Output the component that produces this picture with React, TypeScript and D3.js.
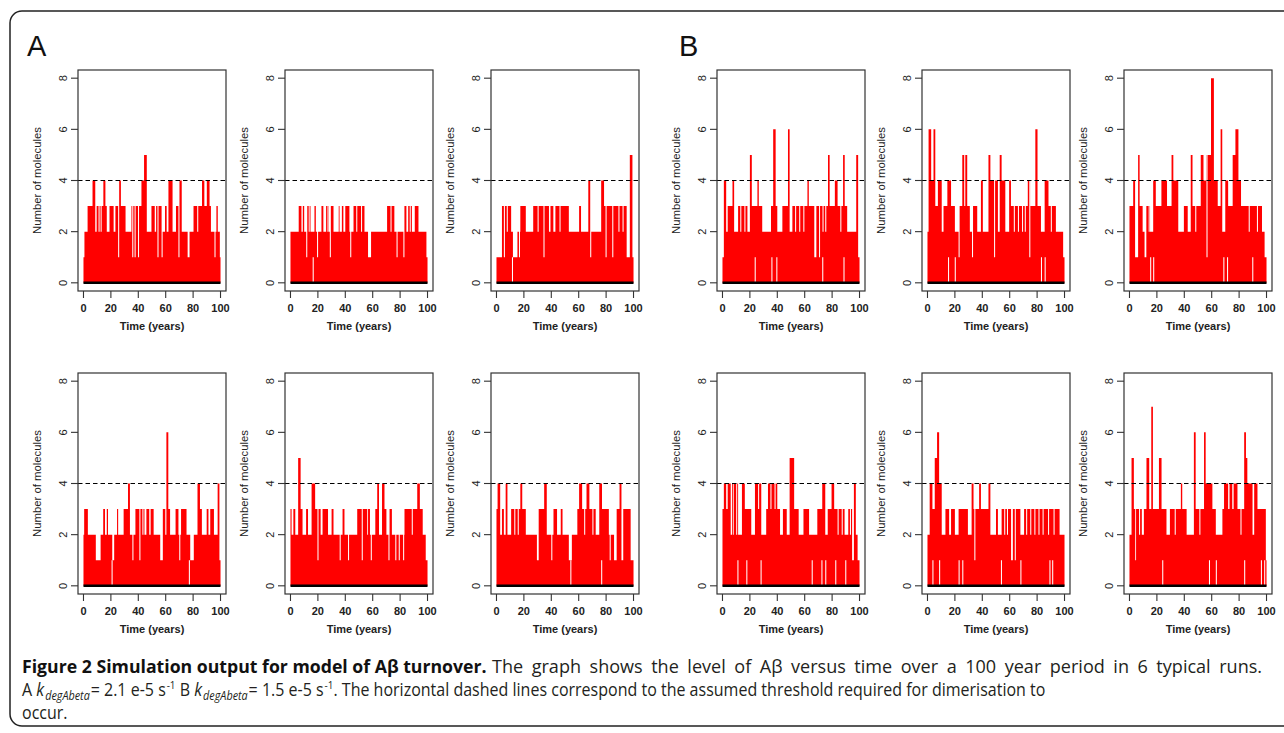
import React, { useLayoutEffect, useRef, useState } from 'react';
import * as d3 from 'd3';

type Step = [number, number];

// ---- axis / labels ----
const xTicks = [0, 20, 40, 60, 80, 100];
const yTicks = [0, 2, 4, 6, 8];
const threshold = 4;
const groupLabels = ['A', 'B'];
const xLabel = 'Time (years)';
const yLabel = 'Number of molecules';

// ---- data: upper envelope change points [year, level], thin dips [year, level], floor gaps (min level 1) ----
const stepsA1: Step[] = [[0,1],[0.7,2],[3,3],[6.6,4],[8.6,2],[9.6,3],[14.5,4],[16,3],[17,2],[19,3],[22,2],[23.3,3],[25.8,4],[27.3,3],[30.7,2],[35,3],[42.3,4],[44.2,5],[46.2,2],[49.6,3],[52,2],[53,3],[57.2,2],[59.5,3],[60.7,2],[62,4],[65,2],[67.5,3],[70,4],[71.7,2],[76,1],[77.4,2],[80.3,3],[84,3],[86.5,4],[88.2,3],[90,4],[92,3],[93,2],[97,3],[98,2],[99.5,1]];
const dipsA1: Step[] = [[11,2],[12.5,2],[25.3,1],[35.6,1],[37.3,1],[39.8,1],[54,1],[57,1],[69.3,1],[83,2],[95.6,1]];
const floorA1: number[] = [];

const stepsA2: Step[] = [[0,2],[6,3],[8,2],[9,3],[10,2],[12,3],[13.3,2],[14,3],[14.6,2],[17.5,3],[18.5,2],[22.6,3],[24,2],[26,3],[28,2],[29,3],[31.4,2],[35.2,3],[35.8,2],[37.5,3],[38.6,2],[40,3],[43,2],[46,3],[54,2],[56.6,1],[58.8,2],[70.5,3],[75.8,2],[83,3],[84.6,2],[85.9,3],[88.6,2],[90.7,3],[93.4,2],[99.2,1]];
const dipsA2: Step[] = [[11.5,1],[19.4,1],[27,2],[28.7,1],[43.6,1],[48,2],[51.5,2],[73,2],[77.4,1],[82.4,1],[87,2]];
const floorA2: number[] = [16.2];

const stepsA3: Step[] = [[0,1],[4,3],[10.7,2],[12,1],[15.3,2],[17.4,3],[21.4,2],[26.8,3],[38.3,2],[39.4,3],[41.5,2],[43,3],[52.8,2],[60.3,3],[61.7,2],[67,4],[68.9,2],[76.4,4],[78.5,3],[95,1],[97.3,5],[99.2,1]];
const dipsA3: Step[] = [[5.4,1],[7.5,2],[16.4,1],[30,2],[34.3,1],[46,2],[68.4,1],[79.6,1],[84.5,1],[89,2],[92,2]];
const floorA3: number[] = [11.3];

const stepsA4: Step[] = [[0,2],[0.5,3],[3.2,2],[9,1],[12.5,2],[14.4,3],[15.7,2],[17,3],[17.9,2],[21,1],[22.4,2],[24.5,3],[25.3,2],[29.3,3],[32.5,4],[33.9,2],[37.9,3],[44.5,2],[45.9,3],[48,2],[49,3],[51.2,2],[56,1],[57.9,3],[59.7,2],[60.5,6],[61.9,3],[63.2,2],[67.2,3],[69.3,2],[71.2,3],[75.2,2],[77.9,1],[80.5,2],[83.2,4],[85,3],[86.4,2],[89.9,3],[91.2,2],[92.5,3],[95.2,2],[97.9,4],[99.2,1]];
const dipsA4: Step[] = [[35.7,1],[40.8,1],[43,2],[69.9,1]];
const floorA4: number[] = [20.5, 76.9];

const stepsA5: Step[] = [[0,3],[0.8,2],[2.1,3],[3.5,2],[5.6,5],[7.4,3],[8.8,2],[11.4,3],[12.8,2],[15.4,4],[18,3],[22,2],[23.4,3],[27.4,2],[30,3],[31.4,2],[38,3],[39.4,2],[48.7,3],[56,2],[56.6,3],[58,2],[61.9,3],[63.3,4],[64.6,2],[66.8,4],[68.6,3],[70,2],[72.3,3],[74,2],[83.2,3],[92.5,4],[94.4,3],[96.5,2],[98.7,1]];
const dipsA5: Step[] = [[19.7,1],[35.9,1],[42,1],[52,1],[58.6,1],[71.5,1],[76.5,1],[79,1],[82.2,1],[88.5,2]];
const floorA5: number[] = [];

const stepsA6: Step[] = [[0,3],[0.8,4],[2.7,2],[4,3],[5.4,2],[6.7,4],[8,2],[10.7,3],[17.4,4],[18.8,3],[21.4,2],[29.5,1],[30.8,3],[34.8,4],[36.7,2],[41.6,3],[44.2,2],[46.9,3],[48.2,2],[52.8,1],[55,2],[59,3],[60.3,4],[62.5,3],[65.7,4],[67.8,3],[72.4,2],[75,4],[77,3],[82,2],[85.8,1],[87.7,3],[89.8,4],[91.2,1],[92.5,3],[97.9,1]];
const dipsA6: Step[] = [[13,2],[15.5,2],[40,1],[64,2],[70,2],[82.6,1]];
const floorA6: number[] = [53.9, 76.4];

const stepsB1: Step[] = [[0,1],[1,4],[2.7,2],[3.8,3],[7.3,4],[8.5,2],[11.4,3],[18.2,2],[20,5],[21.4,3],[25.5,4],[26.5,3],[29,2],[35.4,3],[37,6],[38.8,3],[40,2],[43.7,3],[47.8,6],[49,2],[51,3],[62,4],[63,3],[67,1],[68.5,3],[70.5,1],[71.2,3],[77,5],[78.2,3],[82,4],[84,3],[88,5],[89.2,3],[91,2],[97.6,5],[99,1]];
const dipsB1: Step[] = [[13,2],[16,2],[53,2],[56,2],[59,2],[73,2],[75,2],[86,2]];
const floorB1: number[] = [23.5, 35.7, 39.3, 72.8, 88.3];

const stepsB2: Step[] = [[0,2],[0.8,6],[2.7,4],[4.4,6],[5.7,3],[7.6,4],[10.4,2],[11.7,3],[14.5,4],[17.2,3],[20,2],[22.7,3],[25.4,5],[26.8,3],[27.6,5],[29,3],[30.9,2],[33,3],[36.3,2],[39,4],[40.4,2],[44.5,5],[45.9,4],[51.4,2],[52.7,5],[54.1,4],[56.8,2],[59.6,4],[60.9,3],[73.2,4],[75.1,3],[78.7,6],[80.3,3],[82.8,2],[85.5,4],[88.3,3],[93.7,2],[99,1]];
const dipsB2: Step[] = [[22.7,1],[32.5,1],[48.6,1],[63,2],[66,2],[69,2],[71,2],[74.3,1],[90,2]];
const floorB2: number[] = [15, 19.9, 82.8, 85.5];

const stepsB3: Step[] = [[0,3],[2.7,4],[4.1,1],[6.3,5],[7.4,3],[9.6,2],[11,1],[12.3,3],[15,2],[17.3,4],[19.2,3],[23.3,4],[27.4,3],[30.7,5],[32,4],[35.6,2],[39.7,3],[42.5,2],[44.7,5],[46,3],[52,5],[54,4],[56,5],[59.5,8],[61.6,4],[64.4,3],[66.5,6],[67.7,2],[69.9,4],[72,3],[75.3,5],[77.3,6],[79.5,4],[81.4,3],[96.7,2],[98.6,1]];
const dipsB3: Step[] = [[14,2],[38,2],[48,2],[56.2,1],[87,2],[93,2]];
const floorB3: number[] = [15.1, 17.3, 68.5, 71.2, 89.6];

const stepsB4: Step[] = [[0,3],[1,4],[2.7,3],[3.8,4],[6,2],[7,4],[7.6,2],[8.2,4],[11.4,2],[14.2,4],[16.3,3],[21,2],[23.7,4],[28.3,2],[31.9,3],[33.2,4],[40,3],[42,2],[44.1,3],[46.9,2],[49,5],[52.3,3],[55.6,2],[59.1,3],[63.2,2],[69.2,3],[72.8,4],[75,2],[76.8,3],[79.6,4],[81.5,3],[89.1,2],[91.8,3],[94.6,1],[95.9,4],[97.3,2],[98.6,1]];
const dipsB4: Step[] = [[10,2],[26,3],[35,3],[38,3],[84,2],[87,2],[93,2]];
const floorB4: number[] = [10.9, 17.4, 27.8, 65.1, 72.2, 75, 82.3, 89.6];

const stepsB5: Step[] = [[0,2],[1.6,4],[3.6,3],[5.3,5],[7,6],[8.5,4],[10.4,2],[13.1,3],[15.8,2],[17.2,3],[20,2],[22.7,3],[29.5,2],[32.2,4],[33.6,3],[37.7,4],[39,3],[44.5,4],[45.9,2],[50,3],[51.4,2],[54.1,3],[61,1],[62.3,3],[67.8,2],[70.5,3],[96.4,2]];
const dipsB5: Step[] = [[34.2,1],[56,2],[58,2],[63.7,1],[72,2],[75,2],[78,2],[81,2],[84,2],[88,2],[92,2]];
const floorB5: number[] = [3.6, 8.5, 22.7, 25.4, 53.6, 67.8, 89, 91];

const stepsB6: Step[] = [[0,2],[1.5,5],[3.2,3],[4.2,1],[4.8,3],[9,2],[10.5,3],[12.4,5],[14.4,3],[15.9,7],[17.1,3],[21.5,5],[23.4,3],[27,2],[29.5,3],[37.5,4],[38.5,3],[41.7,2],[47,6],[48.3,3],[54.4,6],[55.6,4],[60.5,3],[63,2],[67.8,3],[69,4],[72,3],[73,4],[75,3],[76,4],[78.8,3],[83.7,6],[85,5],[86,4],[89.8,2],[91,4],[93.4,3],[99.5,1]];
const dipsB6: Step[] = [[7,2],[33,2],[44,2],[51,2],[81,2]];
const floorB6: number[] = [23.9, 58, 63, 83.7, 95.9, 98.3];

const panelData = [
  { steps: stepsA1, dips: dipsA1, floors: floorA1 },
  { steps: stepsA2, dips: dipsA2, floors: floorA2 },
  { steps: stepsA3, dips: dipsA3, floors: floorA3 },
  { steps: stepsA4, dips: dipsA4, floors: floorA4 },
  { steps: stepsA5, dips: dipsA5, floors: floorA5 },
  { steps: stepsA6, dips: dipsA6, floors: floorA6 },
  { steps: stepsB1, dips: dipsB1, floors: floorB1 },
  { steps: stepsB2, dips: dipsB2, floors: floorB2 },
  { steps: stepsB3, dips: dipsB3, floors: floorB3 },
  { steps: stepsB4, dips: dipsB4, floors: floorB4 },
  { steps: stepsB5, dips: dipsB5, floors: floorB5 },
  { steps: stepsB6, dips: dipsB6, floors: floorB6 },
];

// ---- layout ----
const colLeftsA = [78, 285, 491];
const colLeftsB = [717, 922, 1124];
const rowTops = [70, 373];
const boxW = 148;
const boxH = 221;
const DIP_W = 0.75;

function buildEnvelope(steps: Step[], dips: Step[]): Step[] {
  const levelAt = (t: number) => {
    let l = steps[0][1];
    for (const [s, v] of steps) {
      if (s <= t + 1e-9) l = v;
      else break;
    }
    for (const [dt, dv] of dips) {
      if (t >= dt - 1e-9 && t < dt + DIP_W - 1e-9) l = Math.min(l, dv);
    }
    return l;
  };
  const times = new Set<number>();
  steps.forEach(([t]) => times.add(t));
  dips.forEach(([t]) => {
    times.add(t);
    times.add(+(t + DIP_W).toFixed(3));
  });
  const sorted = Array.from(times).filter((t) => t >= 0 && t < 100).sort((a, b) => a - b);
  const pts: Step[] = sorted.map((t) => [t, levelAt(t)]);
  pts.push([100, pts[pts.length - 1][1]]);
  return pts;
}

const axisFont = "'Liberation Sans', Arial, Helvetica, sans-serif";

function Panel({ left, top, steps, dips, floors }: { left: number; top: number; steps: Step[]; dips: Step[]; floors: number[] }) {
  const x = d3.scaleLinear().domain([-4, 104]).range([left, left + boxW]);
  const y = d3.scaleLinear().domain([-0.32, 8.32]).range([top + boxH, top]);
  const bottom = top + boxH;
  const pts = buildEnvelope(steps, dips);
  const area = d3
    .area<Step>()
    .x((d) => x(d[0]))
    .y0(y(0))
    .y1((d) => y(d[1]))
    .curve(d3.curveStepAfter);
  const baseLine = d3.line<number>().x((d) => x(d)).y(() => y(0));
  return (
    <g>
      <path d={area(pts) || ''} fill="#ff0000" />
      {floors.map((t, i) => (
        <rect key={i} x={x(t)} width={x(t + DIP_W) - x(t)} y={y(1)} height={y(0) - y(1)} fill="#ffffff" />
      ))}
      <path d={baseLine([0, 100]) || ''} stroke="#000" strokeWidth={2.6} fill="none" />
      <line x1={left} x2={left + boxW} y1={y(threshold)} y2={y(threshold)} stroke="#000" strokeWidth={1.15} strokeDasharray="4.5,3" />
      <rect x={left} y={top} width={boxW} height={boxH} fill="none" stroke="#333" strokeWidth={1.2} />
      {yTicks.map((v) => (
        <g key={v}>
          <line x1={left - 7} x2={left} y1={y(v)} y2={y(v)} stroke="#333" strokeWidth={1.1} />
          <text
            transform={`translate(${left - 14.5},${y(v)}) rotate(-90)`}
            textAnchor="middle"
            dy="0.35em"
            fontSize={11}
            fontFamily={axisFont}
            fill="#222"
          >
            {v}
          </text>
        </g>
      ))}
      <text
        transform={`translate(${left - 41},${top + boxH / 2}) rotate(-90)`}
        textAnchor="middle"
        dy="0.35em"
        fontSize={11.3}
        fontFamily={axisFont}
        fill="#222"
      >
        {yLabel}
      </text>
      {xTicks.map((v) => (
        <g key={v}>
          <line x1={x(v)} x2={x(v)} y1={bottom} y2={bottom + 7} stroke="#333" strokeWidth={1.1} />
          <text x={x(v)} y={bottom + 21} textAnchor="middle" fontSize={11} fontWeight="bold" fontFamily={axisFont} fill="#222">
            {v}
          </text>
        </g>
      ))}
      <text x={x(50)} y={bottom + 39} textAnchor="middle" fontSize={11} fontWeight="bold" fontFamily={axisFont} fill="#222">
        {xLabel}
      </text>
    </g>
  );
}

const capFont = "'Open Sans', 'Noto Sans', sans-serif";
const CAP_LEFT = 22;
const BOLD_WIDTH = 465; // "Figure 2 ... turnover." 22 -> 487
const REG1_LEFT = 492;
const REG1_WIDTH = 770; // 492 -> 1262 (justified)
const LINE2_WIDTH = 1018; // natural width of second line
const SPACE_SHARE = 0.45; // part of the line-1 stretch taken by word spacing

function Caption() {
  const b = useRef<SVGTextElement>(null);
  const r1 = useRef<SVGTextElement>(null);
  const l2 = useRef<SVGTextElement>(null);
  const [sb, setSb] = useState(0.8);
  const [s1, setS1] = useState(0.9);
  const [s2, setS2] = useState(0.8);
  const [ws, setWs] = useState(0);
  useLayoutEffect(() => {
    if (!b.current || !r1.current || !l2.current) return;
    const lenB = b.current.getComputedTextLength();
    const len1 = r1.current.getComputedTextLength();
    const len2 = l2.current.getComputedTextLength();
    if (lenB <= 0 || len1 <= 0 || len2 <= 0) return;
    const sc2 = LINE2_WIDTH / len2;
    const spaces = (r1.current.textContent || '').split(' ').length - 1;
    const extra = REG1_WIDTH - len1 * sc2;
    const spacePx = (SPACE_SHARE * extra) / Math.max(1, spaces);
    const sc1 = (REG1_WIDTH - SPACE_SHARE * extra) / len1;
    setSb(BOLD_WIDTH / lenB);
    setS2(sc2);
    setS1(sc1);
    setWs(spacePx / sc1);
  }, []);
  return (
    <g fontFamily={capFont} fontSize={18.5} fill="#231f20">
      <g transform={`translate(${CAP_LEFT},0) scale(${sb},1)`}>
        <text ref={b} x={0} y={673} fontWeight="bold" fill="#111">
          Figure 2 Simulation output for model of Aβ turnover.
        </text>
      </g>
      <g transform={`translate(${REG1_LEFT},0) scale(${s1},1)`}>
        <text ref={r1} x={0} y={673} style={{ wordSpacing: `${ws}px` }}>
          The graph shows the level of Aβ versus time over a 100 year period in 6 typical runs.
        </text>
      </g>
      <g transform={`translate(${CAP_LEFT},0) scale(${s2},1)`}>
        <text ref={l2} x={0} y={696}>
          <tspan>A </tspan>
          <tspan fontStyle="italic">k</tspan>
          <tspan fontStyle="italic" fontSize={12.5} dx={1.2} dy={4}>degAbeta</tspan>
          <tspan dx={1} dy={-4}>= 2.1 e-5 s</tspan>
          <tspan fontSize={11.5} dx={1} dy={-7}>-1</tspan>
          <tspan dy={7}> B </tspan>
          <tspan fontStyle="italic">k</tspan>
          <tspan fontStyle="italic" fontSize={12.5} dx={1.2} dy={4}>degAbeta</tspan>
          <tspan dx={1} dy={-4}>= 1.5 e-5 s</tspan>
          <tspan fontSize={11.5} dx={1} dy={-7}>-1</tspan>
          <tspan dy={7}>. The horizontal dashed lines correspond to the assumed threshold required for dimerisation to</tspan>
        </text>
        <text x={0} y={719}>occur.</text>
      </g>
    </g>
  );
}

export default function App() {
  const layouts: { left: number; top: number }[] = [];
  [colLeftsA, colLeftsB].forEach((cols) => {
    rowTops.forEach((top) => {
      cols.forEach((left) => layouts.push({ left, top }));
    });
  });
  return (
    <svg width={1284} height={733} style={{ position: 'absolute', left: 0, top: 0, background: '#fff' }}>
      <rect x={0} y={0} width={1284} height={733} fill="#fff" />
      <rect x={10} y={11} width={1300} height={715} rx={12} ry={12} fill="none" stroke="#222" strokeWidth={1.5} />
      <text x={27} y={56} fontSize={29} fontFamily={axisFont} fill="#111">{groupLabels[0]}</text>
      <text x={679} y={56} fontSize={29} fontFamily={axisFont} fill="#111">{groupLabels[1]}</text>
      {panelData.map((p, i) => (
        <Panel key={i} left={layouts[i].left} top={layouts[i].top} steps={p.steps} dips={p.dips} floors={p.floors} />
      ))}
      <Caption />
    </svg>
  );
}
